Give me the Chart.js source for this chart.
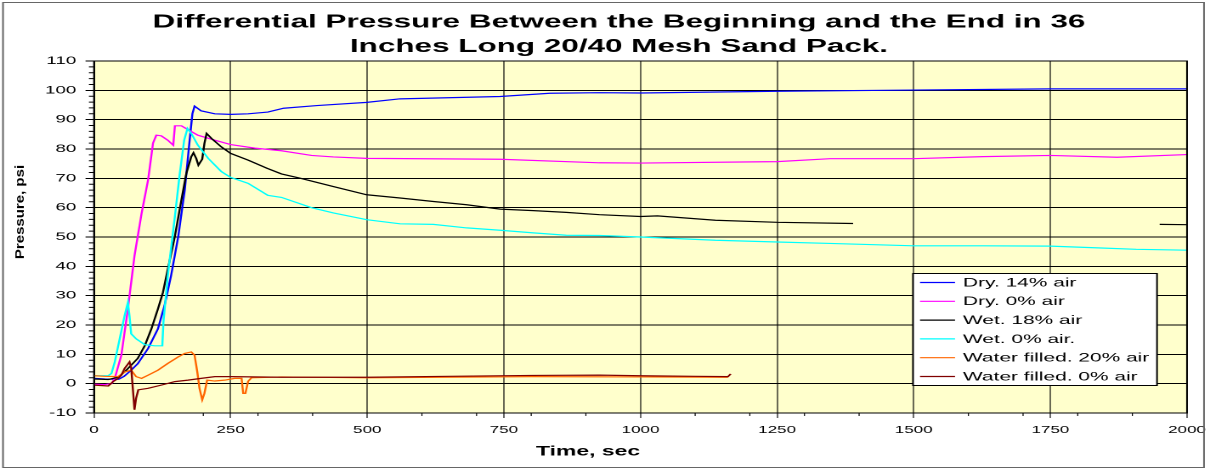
<!DOCTYPE html>
<html lang="en">

<head>
  <meta charset="UTF-8">
  <title>Differential Pressure</title>
  <script src="https://cdn.jsdelivr.net/npm/chart.js"></script>
  <style>
    html, body { margin: 0; padding: 0; background: #fff; overflow: hidden; }
    /* the source picture is stretched sideways, so draw narrow and stretch */
    #myChart { display: block; transform: scaleX(1.69944); transform-origin: 0 0; }
  </style>
</head>

<body>
  <canvas id="myChart" width="712" height="470"></canvas>

  <script>
    const S = 1210 / 712;

    const titleLines = ['Differential Pressure Between the Beginning and the End in 36', 'Inches Long 20/40 Mesh Sand Pack.'];
    const xTitle = 'Time, sec';
    const yTitle = 'Pressure, psi';

    const seriesNames = ['Dry. 14% air', 'Dry. 0% air', 'Wet. 18% air', 'Wet. 0% air.', 'Water filled. 20% air', 'Water filled. 0% air'];
    const seriesColors = ['#0000ff', '#ff00ff', '#000000', '#00ffff', '#ff6600', '#800000'];

    // time in sec, pressure in psi
    const dry14Time = [0, 20, 45, 55, 68, 80, 99, 117, 129, 141, 154, 166, 175, 180, 184, 196, 221, 250, 282, 318, 347, 408, 499, 560, 743, 834, 925, 1000, 1250, 1500, 1750, 2000];
    const dry14Psi = [1.8, 1.6, 1.5, 2.5, 4.6, 6.8, 12, 18.7, 26.6, 36.8, 50, 66, 83, 92, 94.6, 93, 92, 91.8, 92, 92.6, 93.9, 94.8, 95.9, 97.1, 97.9, 99, 99.2, 99.1, 99.7, 100.1, 100.5, 100.5];

    const dry0Time = [0, 20, 32, 38, 50, 62, 74, 87, 99, 108, 114, 123, 135, 145, 148, 160, 172, 190, 221, 250, 294, 343, 398, 438, 499, 743, 925, 1000, 1250, 1347, 1500, 1627, 1750, 1872, 2000];
    const dry0Psi = [-0.2, -0.3, 0, 1.8, 9.7, 25.5, 43.5, 58, 69.5, 82, 84.7, 84.5, 83, 81.3, 87.9, 87.9, 86.6, 84.7, 83, 81.5, 80.3, 79.4, 77.8, 77.3, 76.8, 76.5, 75.3, 75.2, 75.7, 76.7, 76.7, 77.4, 77.8, 77.2, 78.1];

    const wet18Time = [0, 26, 44, 56, 68, 80, 93, 105, 117, 126, 135, 148, 160, 169, 178, 182, 187, 191, 198, 202, 206, 215, 233, 250, 282, 317, 343, 378, 438, 499, 560, 621, 682, 743, 804, 864, 925, 1000, 1031, 1137, 1250, 1389, 1390, 1950, 2000];
    const wet18Psi = [1.6, 1.4, 2.2, 4, 6.3, 8.6, 13, 18.7, 25.5, 31, 39, 50.3, 62.7, 71.7, 77.4, 78.7, 76.8, 74.5, 76.5, 81.9, 85.3, 83.6, 80.7, 78.5, 76.2, 73.4, 71.5, 70, 67.2, 64.4, 63.3, 62.1, 61, 59.5, 59, 58.4, 57.6, 57, 57.2, 55.7, 55, 54.6, null, 54.3, 54.2];

    const wet0Time = [0, 26, 32, 38, 47, 56, 62, 65, 68, 77, 93, 111, 125, 127, 135, 148, 157, 165, 171, 178, 190, 209, 233, 250, 282, 318, 343, 373, 398, 438, 499, 560, 621, 682, 743, 804, 864, 925, 1000, 1137, 1250, 1347, 1500, 1627, 1750, 1837, 1907, 2000];
    const wet0Psi = [2.7, 2.7, 3.5, 7.4, 15.3, 23.2, 27.7, 23, 17, 15.3, 13.3, 12.9, 12.9, 21, 36.8, 57, 71.7, 83, 87, 85.3, 81.3, 76.8, 72.3, 70.3, 68.3, 64.2, 63.5, 61.6, 60, 58.2, 55.9, 54.5, 54.3, 53.1, 52.3, 51.4, 50.6, 50.5, 50, 48.9, 48.3, 47.8, 47, 47, 46.9, 46.3, 45.8, 45.5];

    const wf20Time = [0, 20, 44, 56, 68, 77, 87, 99, 117, 135, 154, 166, 178, 184, 189, 193, 198, 202, 207, 221, 239, 257, 270, 273, 277, 282, 288, 343, 500, 800, 1000, 1160];
    const wf20Psi = [2.7, 2.5, 2.4, 4, 4.6, 2.4, 1.8, 2.9, 4.6, 6.9, 9.1, 10.3, 10.8, 9.7, 4, -1.6, -5.5, -3.3, 1.2, 0.9, 1.2, 1.8, 1.8, -3.3, -3.3, 0.8, 2, 2.3, 2.0, 2.4, 2.3, 2.2];

    const wf0Time = [0, 26, 35, 44, 50, 56, 65, 68, 71, 74, 77, 81, 99, 123, 148, 172, 196, 221, 250, 343, 500, 650, 800, 925, 1000, 1100, 1160, 1165];
    const wf0Psi = [-0.5, -0.8, 0.7, 1.8, 2.9, 5.2, 7.4, 5.5, -1.6, -8.9, -5, -2.1, -1.6, -0.5, 0.7, 1.2, 1.8, 2.4, 2.4, 2.2, 2.2, 2.5, 2.8, 2.9, 2.7, 2.5, 2.4, 3.3];

    const timeArrays = [dry14Time, dry0Time, wet18Time, wet0Time, wf20Time, wf0Time];
    const psiArrays = [dry14Psi, dry0Psi, wet18Psi, wet0Psi, wf20Psi, wf0Psi];

    function toPoints(t, p) {
      return t.map((x, i) => ({ x: x, y: p[i] }))
    }

    const FONT = 'Liberation Sans';

    const extras = {
      id: 'extras',
      beforeDraw(chart) {
        const { ctx, chartArea: a } = chart;
        ctx.save();
        ctx.fillStyle = '#ffffcc';
        ctx.fillRect(a.left, a.top, a.right - a.left, a.bottom - a.top);
        ctx.restore();
      },
      afterLayout(chart) {
        // title sits a bit right of the canvas centre
        chart.titleBlock.left += 15;
        chart.titleBlock.right += 15;
      },
      afterDraw(chart) {
        const { ctx, chartArea: a } = chart;
        const xs = chart.scales.x, ys = chart.scales.y;
        ctx.save();

        // outer frame
        ctx.strokeStyle = '#666';
        ctx.lineWidth = 1;
        ctx.strokeRect(3 / S, 2.5, 1201 / S, 465);

        // plot border
        ctx.strokeStyle = '#000';
        ctx.strokeRect(a.left, a.top, a.right - a.left, a.bottom - a.top);

        // minor ticks
        ctx.beginPath();
        ctx.lineWidth = 0.6;
        for (let v = 100; v < 2000; v += 100) {
          if (v % 250 === 0) continue;
          const px = xs.getPixelForValue(v);
          ctx.moveTo(px, a.bottom);
          ctx.lineTo(px, a.bottom + 3);
        }
        ctx.stroke();
        ctx.beginPath();
        ctx.lineWidth = 1;
        for (let v = -8; v < 110; v += 2) {
          if (v % 10 === 0) continue;
          const py = ys.getPixelForValue(v);
          ctx.moveTo(a.left - 3, py);
          ctx.lineTo(a.left, py);
        }
        ctx.stroke();

        // axis titles
        ctx.fillStyle = '#000';
        ctx.textAlign = 'center';
        ctx.textBaseline = 'middle';
        ctx.font = 'bold 13.5px "' + FONT + '"';
        ctx.fillText(xTitle, 588 / S, 452);

        ctx.save();
        ctx.translate(20 / S, 212);
        ctx.rotate(-Math.PI / 2);
        ctx.scale(1.5, 1.3 / S);
        ctx.font = 'bold 10px "' + FONT + '"';
        ctx.fillText(yTitle, 0, 0);
        ctx.restore();

        // legend box
        const lx = 913 / S, ly = 273.5, lw = 244 / S, lh = 112;
        ctx.fillStyle = '#fff';
        ctx.fillRect(lx, ly, lw, lh);
        ctx.strokeStyle = '#000';
        ctx.lineWidth = 1;
        ctx.strokeRect(lx, ly, lw, lh);
        ctx.font = '12.3px "' + FONT + '"';
        ctx.textAlign = 'left';
        chart.data.datasets.forEach((ds, i) => {
          const y = 282.5 + i * 18.8;
          ctx.strokeStyle = ds.borderColor;
          ctx.lineWidth = 1.2;
          ctx.beginPath();
          ctx.moveTo(920 / S, y);
          ctx.lineTo(955 / S, y);
          ctx.stroke();
          ctx.fillStyle = '#000';
          ctx.fillText(ds.label, 963 / S, y + 0.5);
        });

        ctx.restore();
      }
    };

    const ctx = document.getElementById('myChart');

    new Chart(ctx, {
      type: 'line',
      data: {
        datasets: seriesNames.map((name, i) => ({
          label: name,
          data: toPoints(timeArrays[i], psiArrays[i]),
          borderColor: seriesColors[i],
          backgroundColor: seriesColors[i],
          borderWidth: 1.2,
          pointRadius: 0,
          tension: 0,
          fill: false,
          spanGaps: false,
          order: seriesNames.length - i
        }))
      },
      options: {
        responsive: false,
        animation: false,
        devicePixelRatio: 2,
        events: [],
        layout: { padding: { left: 0, right: 712 - 1187 / S, top: 0, bottom: 0 } },
        plugins: {
          legend: { display: false },
          tooltip: { enabled: false },
          title: {
            display: true,
            text: titleLines,
            color: '#000',
            font: { family: FONT, size: 18.5, weight: 'bold', lineHeight: 24.5 / 18.5 },
            padding: { top: 10, bottom: 2 }
          }
        },
        scales: {
          x: {
            type: 'linear',
            min: 0,
            max: 2000,
            ticks: {
              stepSize: 250,
              autoSkip: false,
              maxRotation: 0,
              color: '#000',
              padding: 6,
              font: { family: FONT, size: 10 },
              callback: (v) => String(v)
            },
            grid: { color: '#000', lineWidth: 1 / S, tickLength: 5, tickColor: '#000' },
            border: { color: '#000', width: 1 },
            afterFit(scale) {
              scale.height = 57;
              scale.paddingLeft = 0;
              scale.paddingRight = 0;
            }
          },
          y: {
            min: -10,
            max: 110,
            ticks: {
              stepSize: 10,
              autoSkip: false,
              color: '#000',
              padding: 5.5,
              font: { family: FONT, size: 11 },
              callback: (v) => String(v)
            },
            grid: { color: '#000', lineWidth: 1, tickLength: 5, tickColor: '#000' },
            border: { color: '#000', width: 1.5 / S },
            afterFit(scale) { scale.width = 94 / S; }
          }
        }
      },
      plugins: [extras]
    });
  </script>
</body>

</html>
